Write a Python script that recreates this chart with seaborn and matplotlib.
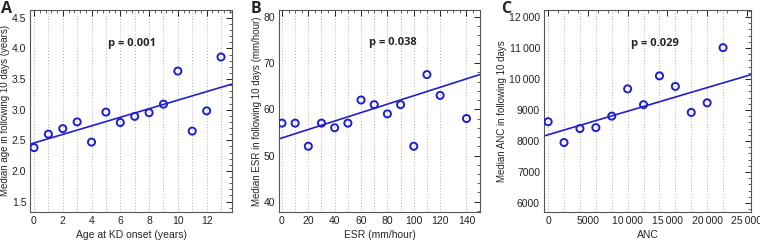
import seaborn as sns
import pandas as pd
import matplotlib.pyplot as plt
import numpy as np
from matplotlib.ticker import FixedLocator, AutoMinorLocator, FuncFormatter

# Data
age_x = [0, 1, 2, 3, 4, 5, 6, 7, 8, 9, 10, 11, 12, 13]
age_y = [2.38, 2.60, 2.69, 2.80, 2.47, 2.96, 2.79, 2.89, 2.95, 3.09, 3.63, 2.65, 2.98, 3.86]

esr_x = [0, 10, 20, 30, 40, 50, 60, 70, 80, 90, 100, 110, 120, 140]
esr_y = [57, 57, 52, 57, 56, 57, 62, 61, 59, 61, 52, 67.5, 63, 58]

anc_x = [0, 2000, 4000, 6000, 8000, 10000, 12000, 14000, 16000, 18000, 20000, 22000]
anc_y = [8620, 7950, 8400, 8430, 8800, 9680, 9170, 10100, 9760, 8920, 9230, 11010]

# fitted lines: (intercept, slope)
fits = [(2.456, 0.0699), (53.8, 0.0913), (8200, 0.076)]

letters = ['A', 'B', 'C']
p_texts = ['p = 0.001', 'p = 0.038', 'p = 0.029']
xlabels = ['Age at KD onset (years)', 'ESR (mm/hour)', 'ANC']
ylabels = ['Median age in following 10 days (years)',
           'Median ESR in following 10 days (mm/hour)',
           'Median ANC in following 10 days']
xticks = [[0, 2, 4, 6, 8, 10, 12], [0, 20, 40, 60, 80, 100, 120, 140],
          [0, 5000, 10000, 15000, 20000, 25000]]
yticks = [[1.5, 2.0, 2.5, 3.0, 3.5, 4.0, 4.5], [40, 50, 60, 70, 80],
          [6000, 7000, 8000, 9000, 10000, 11000, 12000]]

sns.set_style('white')
plt.rcParams['font.family'] = ['Liberation Sans', 'DejaVu Sans']

blue = '#1f1fcf'
fig = plt.figure(figsize=(7.6, 2.4), dpi=100)
boxes = [[0.040, 0.117, 0.265, 0.842],
         [0.367, 0.117, 0.265, 0.842],
         [0.716, 0.117, 0.272, 0.842]]
limits = [((-0.25, 13.75), (1.33, 4.63)),
          ((-2.3, 150.5), (37.8, 81.5)),
          ((-500, 25500), (5710, 12230))]
p_pos = [(6.8, 4.08), (84, 74.4), (13440, 11160)]
series = [(age_x, age_y), (esr_x, esr_y), (anc_x, anc_y)]
letter_x = [1, 251, 501]


def thin_fmt(v, pos):
    v = int(round(v))
    if v >= 10000:
        return f'{v // 1000}\u202f{v % 1000:03d}'
    return str(v)


for i, box in enumerate(boxes):
    ax = fig.add_axes(box)
    xs, ys = series[i]
    df = pd.DataFrame({'x': xs, 'y': ys})
    x0, x1 = limits[i][0]
    for xv in xs:
        ax.axvline(xv, color='#b0b0b0', lw=0.7, ls=(0, (1, 2)), zorder=0)
    b0, b1 = fits[i]
    line = pd.DataFrame({'x': [x0, x1], 'y': [b0 + b1 * x0, b0 + b1 * x1]})
    sns.lineplot(data=line, x='x', y='y', ax=ax, color=blue, lw=1.2)
    sns.scatterplot(data=df, x='x', y='y', ax=ax, s=26, facecolors='none',
                    edgecolor=blue, linewidth=1.4, zorder=3)
    ax.set_xlim(x0, x1)
    ax.set_ylim(*limits[i][1])
    ax.xaxis.set_major_locator(FixedLocator(xticks[i]))
    ax.yaxis.set_major_locator(FixedLocator(yticks[i]))
    ax.xaxis.set_minor_locator(AutoMinorLocator(5 if i == 0 else 4))
    ax.yaxis.set_minor_locator(AutoMinorLocator(5))
    if i == 0:
        ax.yaxis.set_major_formatter(FuncFormatter(lambda v, p: f'{v:.1f}'))
    if i == 2:
        ax.xaxis.set_major_formatter(FuncFormatter(thin_fmt))
        ax.yaxis.set_major_formatter(FuncFormatter(thin_fmt))
    ax.tick_params(which='both', direction='in', top=True, right=True,
                   labelsize=7.5, colors='#222222', pad=3)
    ax.tick_params(which='major', length=4, width=0.7)
    ax.tick_params(which='minor', length=2, width=0.5)
    for s in ax.spines.values():
        s.set_color('#555555')
        s.set_linewidth(0.8)
    ax.set_xlabel(xlabels[i], fontsize=7.5, labelpad=3)
    ax.set_ylabel(ylabels[i], fontsize=7, labelpad=1)
    ax.text(p_pos[i][0], p_pos[i][1], p_texts[i], ha='center', va='center',
            fontsize=8, fontweight='bold', family=['Open Sans', 'DejaVu Sans'])
    fig.text(letter_x[i] / 760, 0.995, letters[i], ha='left', va='top',
             fontsize=11.5, fontweight='bold', family=['Open Sans', 'DejaVu Sans'])

fig.savefig('out.png', dpi=100)
